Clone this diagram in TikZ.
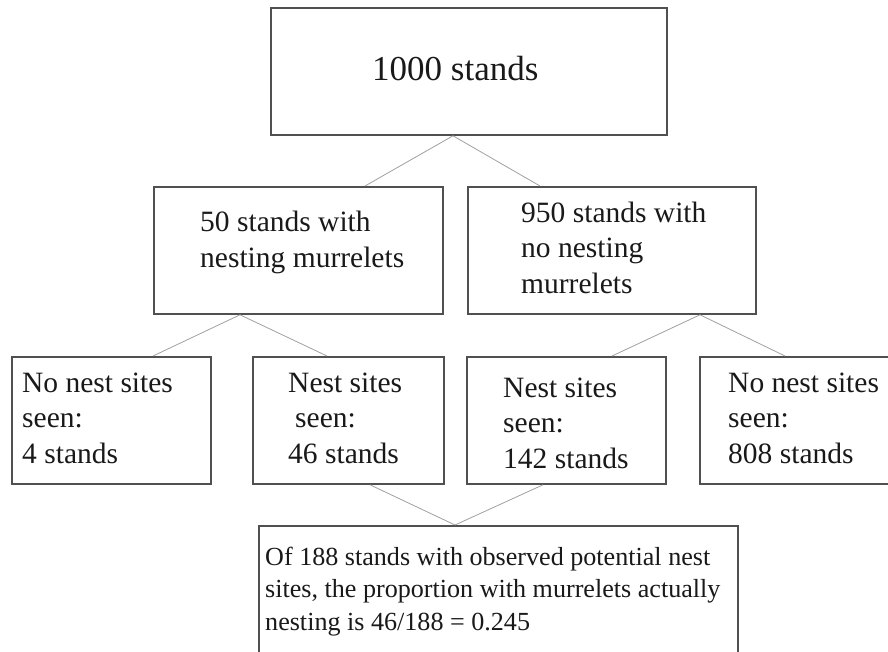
\documentclass[tikz,border=0pt]{standalone}
\usepackage{fontspec}
\setmainfont{Liberation Serif}
\usetikzlibrary{calc}
\definecolor{boxline}{RGB}{80,80,80}
\definecolor{linkgray}{RGB}{160,160,160}
\definecolor{ink}{RGB}{25,25,25}
\begin{document}
\begin{tikzpicture}[x=1pt,y=-1pt,
  box/.style={draw=boxline, line width=1.8pt, rectangle, inner sep=0pt,
              anchor=north west, minimum height=127pt},
  link/.style={draw=linkgray, line width=0.8pt},
  % multi-line texts are placed by the baseline of their last line
  txt/.style={anchor=base west, inner sep=0pt, align=left, text=ink},
  big/.style={font=\fontsize{35}{42}\selectfont},
  mid/.style={font=\fontsize{29.5}{35.5}\selectfont},
  small/.style={font=\fontsize{26.1}{32.5}\selectfont}]
  \useasboundingbox (0,0) rectangle (888,651);

  % boxes
  \node[box, minimum width=396pt] (top)  at (270,7)   {};
  \node[box, minimum width=289pt] (n50)  at (153,186) {};
  \node[box, minimum width=288pt] (n950) at (467,186) {};
  \node[box, minimum width=199pt] (b1)   at (11,356)  {};
  \node[box, minimum width=191pt] (b2)   at (252,356) {};
  \node[box, minimum width=199pt] (b3)   at (466,356) {};
  \node[box, minimum width=194pt] (b4)   at (699,356) {};
  \node[box, minimum width=479pt, minimum height=135pt] (res) at (258,525) {};

  % texts
  \node[txt, big] (ttop) at ($(top.north west)+(102,73)$) {1000 stands};
  \node[txt, mid] (t50) at ($(n50.north west)+(47,81)$) {50 stands with\\nesting murrelets};
  \node[txt, mid] (t950) at ($(n950.north west)+(54,107)$) {950 stands with\\no nesting\\murrelets};
  \node[txt, mid] (tb1) at ($(b1.north west)+(11,107)$) {No nest sites\\seen:\\4 stands};
  \node[txt, mid] (tb2) at ($(b2.north west)+(36,107)$) {Nest sites\\\hspace*{7pt}seen:\\46 stands};
  \node[txt, mid] (tb3) at ($(b3.north west)+(37,112)$) {Nest sites\\seen:\\142 stands};
  \node[txt, mid] (tb4) at ($(b4.north west)+(29,107)$) {No nest sites\\seen:\\808 stands};
  \node[txt, small] (tres) at ($(res.north west)+(7,105)$)
    {Of 188 stands with observed potential nest\\sites, the proportion with murrelets actually\\nesting is 46/188 = 0.245};

  % connectors
  \coordinate (jtop) at ($(top.south west)+(183,0)$);
  \coordinate (j50)  at ($(n50.south west)+(87,0)$);
  \coordinate (j950) at ($(n950.south west)+(233,0)$);
  \coordinate (jres) at ($(res.north west)+(197,0)$);

  \draw[link] (jtop) -- ($(n50.north west)+(212,0)$);
  \draw[link] (jtop) -- ($(n950.north west)+(73,0)$);
  \draw[link] (j50) -- ($(b1.north west)+(142,0)$);
  \draw[link] (j50) -- ($(b2.north west)+(75,0)$);
  \draw[link] (j950) -- ($(b3.north west)+(146,0)$);
  \draw[link] (j950) -- ($(b4.north west)+(86,0)$);
  \draw[link] ($(b2.south west)+(118,0)$) -- (jres);
  \draw[link] ($(b3.south west)+(77,0)$) -- (jres);
\end{tikzpicture}
\end{document}
